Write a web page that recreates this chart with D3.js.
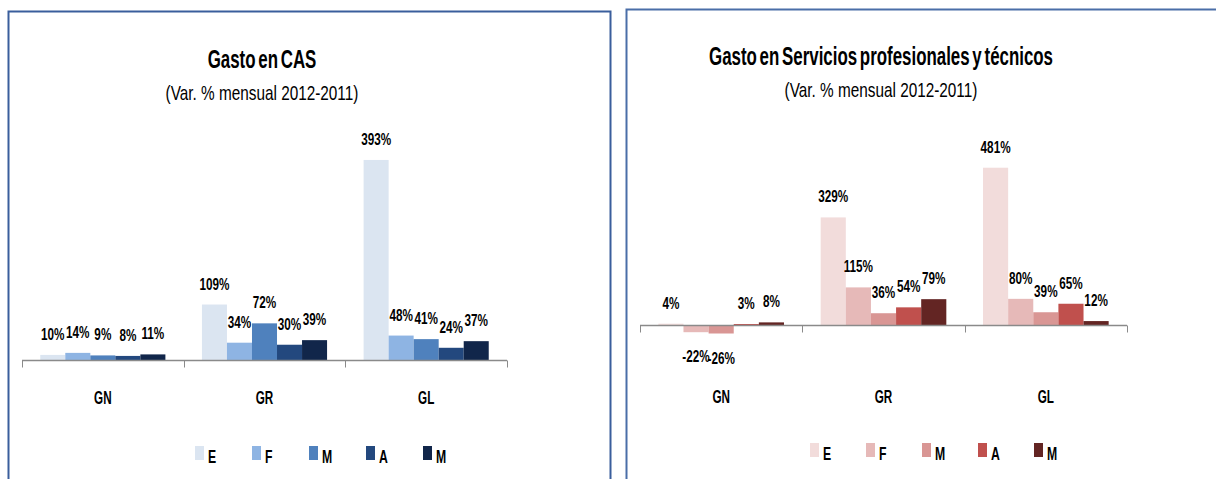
<!DOCTYPE html>
<html>
<head>
<meta charset="utf-8">
<script src="https://cdn.jsdelivr.net/npm/d3@7"></script>
<style>
  body { margin: 0; background: #fff; }
  svg text { font-family: "Liberation Sans", Arial, sans-serif; fill: #000; }
</style>
</head>
<body>
<div id="chart"></div>
<script>
// categories and series
var categories = ["GN", "GR", "GL"];
var seriesNames = ["E", "F", "M", "A", "M"];

// Gasto en CAS, one list per series (GN, GR, GL)
var casE = [10, 109, 393];
var casF = [14, 34, 48];
var casM = [9, 72, 41];
var casA = [8, 30, 24];
var casM2 = [11, 39, 37];

// Gasto en Servicios profesionales y técnicos
var sptE = [4, 329, 481];
var sptF = [-22, 115, 80];
var sptM = [-26, 36, 39];
var sptA = [3, 54, 65];
var sptM2 = [8, 79, 12];

var blues = ["#dbe5f1", "#8eb4e3", "#4f81bd", "#23487e", "#11264a"];
var reds = ["#f2dcdb", "#e6b9b8", "#d99694", "#c0504d", "#632523"];

var svg = d3.select("#chart")
            .append("svg")
            .attr("width", 1216)
            .attr("height", 479);

// panel borders
svg.append("path")
   .attr("d", "M8.5,479 V11.5 H610.5 V479")
   .attr("fill", "none")
   .attr("stroke", "#3a5e9c")
   .attr("stroke-width", 2);
svg.append("path")
   .attr("d", "M626.5,479 V9.5 H1216")
   .attr("fill", "none")
   .attr("stroke", "#4a6ea8")
   .attr("stroke-width", 2);

// narrow text: the original font is condensed, so squeeze horizontally
function addText(parent, x, y, str, size, bold, sx, anchor) {
  return parent.append("text")
               .attr("transform", "translate(" + x + "," + y + ") scale(" + sx + ",1)")
               .attr("text-anchor", anchor || "middle")
               .style("font-size", size + "px")
               .style("font-weight", bold ? "bold" : "normal")
               .text(str);
}

/*
Draws one grouped bar chart with title, data labels, category axis and legend.
*/
function drawChart(opt) {
  var g = svg.append("g");

  var x0 = d3.scaleBand()
             .domain(categories)
             .range([opt.left, opt.right])
             .paddingInner(0)
             .paddingOuter(0);

  var x1 = d3.scaleBand()
             .domain(d3.range(seriesNames.length))
             .range([0, x0.bandwidth()])
             .paddingInner(0)
             .paddingOuter(0.73);

  var y = d3.scaleLinear()
            .domain(opt.domain)
            .range(opt.range);

  // titles
  addText(g, opt.center, opt.titleY, opt.title, 26, true, 0.65)
    .style("word-spacing", "-3px");
  addText(g, opt.center, opt.titleY + 32, "(Var. % mensual 2012-2011)", 21, false, 0.73);

  // bars
  opt.series.forEach(function(vals, s) {
    g.selectAll(".bar" + s)
     .data(vals)
     .enter()
     .append("rect")
     .attr("x", function(d, i) { return x0(categories[i]) + x1(s); })
     .attr("y", function(d) { return y(Math.max(0, d)); })
     .attr("width", x1.bandwidth())
     .attr("height", function(d) { return Math.abs(y(d) - y(0)); })
     .attr("fill", opt.colors[s]);

    vals.forEach(function(d, i) {
      var cx = x0(categories[i]) + x1(s) + x1.bandwidth() / 2;
      var ty = d >= 0 ? y(d) - 15 : y(d) + 30;
      addText(g, cx, ty, d + "%", 17, true, 0.69);
    });
  });

  // category axis
  var axisY = Math.round(y(0)) + 0.5;
  g.append("line")
   .attr("x1", opt.left)
   .attr("x2", opt.right)
   .attr("y1", axisY)
   .attr("y2", axisY)
   .attr("stroke", "#8a8a8a")
   .attr("stroke-width", 1.3);

  var ticks = categories.map(function(c) { return x0(c); }).concat([opt.right]);
  g.selectAll(".tick")
   .data(ticks)
   .enter()
   .append("line")
   .attr("x1", function(d) { return Math.round(d) + 0.5; })
   .attr("x2", function(d) { return Math.round(d) + 0.5; })
   .attr("y1", axisY)
   .attr("y2", axisY + 7)
   .attr("stroke", "#8a8a8a");

  categories.forEach(function(c) {
    addText(g, x0(c) + x0.bandwidth() / 2, opt.catY, c, 18, true, 0.65);
  });

  // legend
  seriesNames.forEach(function(name, i) {
    var lx = opt.legX + i * opt.legStep;
    g.append("rect")
     .attr("x", lx)
     .attr("y", opt.legY)
     .attr("width", 9)
     .attr("height", 14)
     .attr("fill", opt.colors[i]);
    addText(g, lx + 13, opt.legY + 17, name, 18, true, 0.68, "start");
  });
}

drawChart({
  title: "Gasto en CAS",
  center: 262,
  titleY: 68,
  left: 22,
  right: 507,
  domain: [0, 450],
  range: [360, 360 - 450 * 0.509],
  series: [casE, casF, casM, casA, casM2],
  colors: blues,
  catY: 404,
  legX: 195,
  legStep: 57,
  legY: 446
});

drawChart({
  title: "Gasto en Servicios profesionales y técnicos",
  center: 881,
  titleY: 65,
  left: 640,
  right: 1127,
  domain: [-30, 520],
  range: [325 + 30 * 0.327, 325 - 520 * 0.327],
  series: [sptE, sptF, sptM, sptA, sptM2],
  colors: reds,
  catY: 403,
  legX: 810,
  legStep: 56,
  legY: 443
});
</script>
</body>
</html>
